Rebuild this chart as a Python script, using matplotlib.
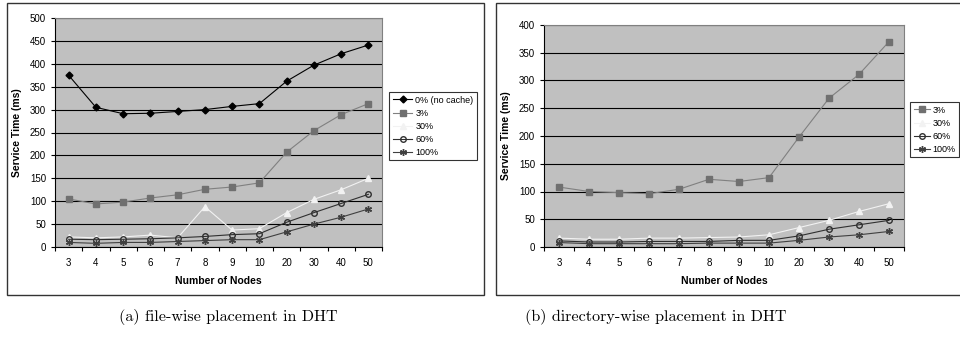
import matplotlib.pyplot as plt
from matplotlib.patches import Rectangle
import numpy as np

nodes = ['3', '4', '5', '6', '7', '8', '9', '10', '20', '30', '40', '50']

# (a) file-wise placement
a_0 = [375, 305, 291, 292, 296, 300, 307, 313, 362, 397, 422, 441]
a_3 = [105, 94, 98, 107, 114, 126, 131, 140, 207, 254, 289, 313]
a_30 = [22, 20, 22, 26, 20, 88, 37, 40, 75, 104, 125, 150]
a_60 = [17, 16, 17, 18, 20, 23, 27, 29, 54, 75, 95, 115]
a_100 = [10, 8, 10, 10, 12, 14, 16, 16, 33, 50, 65, 83]

# (b) directory-wise placement
b_3 = [108, 100, 98, 96, 104, 122, 118, 125, 198, 268, 311, 370]
b_30 = [16, 14, 14, 16, 16, 17, 18, 22, 35, 48, 64, 78]
b_60 = [11, 9, 9, 10, 10, 10, 12, 12, 20, 32, 40, 48]
b_100 = [8, 6, 6, 6, 6, 7, 7, 7, 12, 18, 22, 28]

styles = {
    '0% (no cache)': dict(color='black', marker='D', ms=3.5, mfc='black', mec='black'),
    '3%': dict(color='#808080', marker='s', ms=4, mfc='#707070', mec='#707070'),
    '30%': dict(color='#f2f2f2', marker='^', ms=4.5, mfc='#f2f2f2', mec='#f2f2f2'),
    '60%': dict(color='#303030', marker='o', ms=4, mfc='none', mec='#303030'),
    '100%': dict(color='#404040', marker=(6, 2, 0), ms=5, mfc='#404040', mec='#404040'),
}

plt.rcParams['font.family'] = ['Liberation Sans', 'DejaVu Sans']

W, H = 960, 338
fig = plt.figure(figsize=(9.6, 3.38), dpi=100)


def px_axes(x0, y0, x1, y1):
    return fig.add_axes([x0 / W, 1 - y1 / H, (x1 - x0) / W, (y1 - y0) / H])


def draw(ax, series, ymax, leg_anchor, hlen):
    x = np.arange(len(nodes))
    ax.set_facecolor('#c0c0c0')
    for name, vals in series:
        ax.plot(x, vals, lw=0.8, label=name, **styles[name])
    ax.set_xlim(-0.5, len(nodes) - 0.5)
    ax.set_ylim(0, ymax)
    ax.set_yticks(np.arange(0, ymax + 1, 50))
    ax.set_xticks(x)
    ax.set_xticklabels(nodes)
    ax.set_xticks(np.arange(-0.5, len(nodes), 1), minor=True)
    ax.tick_params(axis='x', which='major', length=0, labelsize=7, pad=8)
    ax.tick_params(axis='x', which='minor', length=3, direction='out', width=0.8)
    ax.tick_params(axis='y', length=3, direction='out', labelsize=7, width=0.8)
    ax.grid(axis='y', color='black', lw=0.8)
    ax.set_axisbelow(True)
    for s in ['top', 'right']:
        ax.spines[s].set_color('#808080')
        ax.spines[s].set_linewidth(0.8)
    for s in ['left', 'bottom']:
        ax.spines[s].set_color('black')
        ax.spines[s].set_linewidth(0.8)
    ax.set_xlabel('Number of Nodes', fontsize=7.5, fontweight='bold', labelpad=6)
    ax.set_ylabel('Service Time (ms)', fontsize=7.5, fontweight='bold', labelpad=6)
    leg = ax.legend(loc='upper left', bbox_to_anchor=leg_anchor, fontsize=6.5,
                    frameon=True, fancybox=False, edgecolor='black',
                    handlelength=hlen, borderpad=0.4, labelspacing=0.45,
                    handletextpad=0.3, borderaxespad=0)
    leg.get_frame().set_linewidth(0.8)


# outer frames
fig.patches.append(Rectangle((7 / W, 1 - 295 / H), 477 / W, 292 / H,
                             transform=fig.transFigure, fill=False,
                             edgecolor='#333333', lw=1))
fig.patches.append(Rectangle((496 / W, 1 - 295 / H), 470 / W, 292 / H,
                             transform=fig.transFigure, fill=False,
                             edgecolor='#333333', lw=1))

ax1 = px_axes(55, 18, 382, 247)
draw(ax1, [('0% (no cache)', a_0), ('3%', a_3), ('30%', a_30),
           ('60%', a_60), ('100%', a_100)], 500, (0.021, 0.66), 2.2)
ax1.get_legend().set_bbox_to_anchor((389 / W, 1 - 92 / H), transform=fig.transFigure)

ax2 = px_axes(544, 25, 904, 247)
draw(ax2, [('3%', b_3), ('30%', b_30), ('60%', b_60), ('100%', b_100)],
     400, (0, 0), 1.8)
ax2.get_legend().set_bbox_to_anchor((910 / W, 1 - 102 / H), transform=fig.transFigure)

fig.text(228 / W, 1 - 317 / H, '(a) file-wise placement in DHT',
         fontfamily='cmr10', fontsize=11.6, ha='center', va='center')
fig.text(656 / W, 1 - 317 / H, '(b) directory-wise placement in DHT',
         fontfamily='cmr10', fontsize=11.6, ha='center', va='center')

fig.savefig('out.png', dpi=100)
